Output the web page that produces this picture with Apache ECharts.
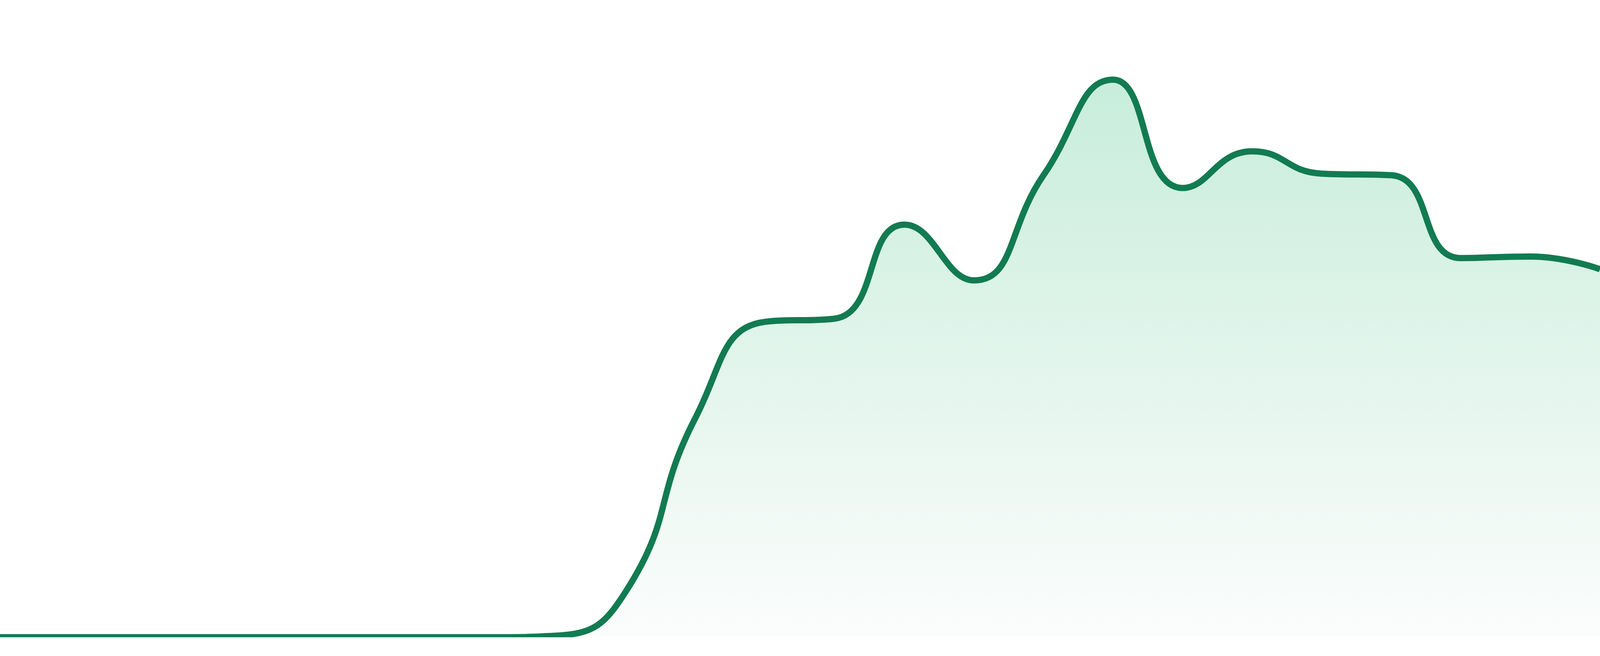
<!DOCTYPE html>
<html>
<head>
<meta charset="utf-8">
<script src="https://cdn.jsdelivr.net/npm/echarts@6/dist/echarts.min.js"></script>
<style>
  html, body { margin: 0; padding: 0; width: 100%; height: 100%; overflow: hidden; background: #ffffff; }
  #chart { width: 100vw; height: calc(100vh - 48px); }
</style>
</head>
<body>
<div id="chart"></div>
<script>
const hours = ['00:00','01:00','02:00','03:00','04:00','05:00','06:00','07:00','08:00','09:00','10:00','11:00',
               '12:00','13:00','14:00','15:00','16:00','17:00','18:00','19:00','20:00','21:00','22:00','23:00'];
const values = [0, 0, 0, 0, 0, 0, 0, 0, 1, 29, 138, 198,
                200, 259, 224, 290, 350, 282, 305, 291, 290, 238, 239, 231];

const chart = echarts.init(document.getElementById('chart'), null, { renderer: 'canvas' });
chart.setOption({
  animation: false,
  backgroundColor: '#ffffff',
  grid: { left: 0, right: 0, top: 0, bottom: 0, containLabel: false },
  xAxis: { type: 'category', data: hours, boundaryGap: false, show: false },
  yAxis: { type: 'value', min: 0, max: 400, show: false },
  series: [{
    type: 'line',
    data: values,
    smooth: true,
    showSymbol: false,
    symbol: 'none',
    lineStyle: { color: '#127B51', width: 16 },
    itemStyle: { color: '#127B51' },
    areaStyle: {
      color: new echarts.graphic.LinearGradient(0, 0, 0, 1, [
        { offset: 0, color: '#b0e5cc' },
        { offset: 1, color: '#fafcfb' }
      ])
    }
  }]
});
window.addEventListener('resize', () => chart.resize());
</script>
</body>
</html>
